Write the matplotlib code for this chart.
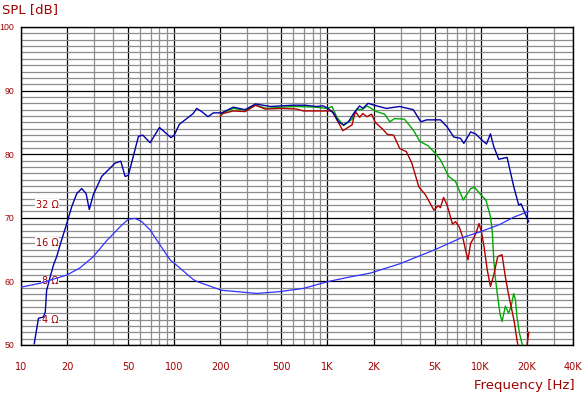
import numpy as np
import matplotlib
matplotlib.use('Agg')
import matplotlib.pyplot as plt
from matplotlib import font_manager
from matplotlib.ticker import FixedLocator, NullLocator

# SPL curves (freq in Hz, level in dB)
f_blue = [12.2, 13.0, 14.0, 14.4, 14.7, 15.5, 16.3, 17.1, 18.4, 19.9, 21.4, 23.1, 24.9, 26.6,
          27.9, 29.6, 33.6, 41.1, 44.8, 47.8, 50.2, 58.4, 62.3, 69.6, 80.1, 95.3, 100, 108,
          133, 140, 151, 166, 180, 204, 243, 290, 339, 424, 500, 597, 714, 850, 936, 1010,
          1100, 1181, 1270, 1370, 1480, 1620, 1700, 1840, 2090, 2420, 2960, 3630, 4060, 4440,
          5460, 6030, 6670, 7380, 7760, 8590, 9250, 10200, 10900, 11570, 12160, 13110, 14860,
          16420, 17690, 18330, 20520]
spl_blue = [50.2, 54.2, 54.4, 55.2, 58.6, 60.7, 62.6, 63.9, 66.5, 69.1, 71.7, 73.8, 74.6, 73.8,
            71.3, 73.6, 76.5, 78.6, 78.9, 76.5, 76.7, 82.8, 83.0, 81.8, 84.2, 82.6, 83.0, 84.7,
            86.4, 87.2, 86.7, 85.9, 86.5, 86.5, 87.4, 87.0, 87.9, 87.5, 87.6, 87.7, 87.7, 87.5,
            87.6, 87.2, 86.4, 85.1, 84.6, 85.1, 86.4, 87.6, 87.2, 88.0, 87.6, 87.2, 87.5, 87.0,
            85.1, 85.4, 85.4, 84.3, 82.7, 82.5, 81.7, 83.5, 83.2, 82.2, 81.6, 83.2, 81.2, 79.2,
            79.5, 74.9, 72.0, 72.2, 69.4]

f_green = [200, 208, 243, 290, 339, 400, 500, 627, 830, 991, 1069, 1152, 1275, 1445, 1555,
           1680, 1810, 2090, 2360, 2550, 2740, 3180, 3630, 4010, 4550, 5070, 5460, 6180, 6850,
           7690, 8590, 9110, 10030, 10800, 11570, 11900, 12160, 12500, 12900, 13400, 13770,
           14480, 15200, 15750, 16420, 16850, 17220, 17920, 18560, 19500, 20200]
spl_green = [86.2, 86.5, 87.2, 86.9, 87.7, 87.2, 87.4, 87.5, 87.4, 87.2, 87.5, 85.8, 84.5, 85.5,
             87.1, 87.0, 87.6, 86.7, 86.3, 85.1, 85.6, 85.5, 83.8, 82.0, 81.3, 80.1, 79.1, 76.5,
             75.7, 72.8, 74.6, 74.8, 73.6, 72.8, 70.2, 67.8, 63.4, 60.2, 57.6, 54.7, 53.7, 56.1,
             55.0, 56.0, 58.1, 57.1, 54.5, 51.8, 50.3, 49.0, 49.5]

f_red = [200, 208, 243, 290, 339, 392, 500, 627, 697, 936, 1069, 1152, 1260, 1340, 1445, 1520,
         1620, 1700, 1810, 1940, 2050, 2300, 2460, 2700, 2960, 3270, 3550, 3940, 4360, 4950,
         5270, 5460, 5720, 6030, 6540, 6850, 7230, 7620, 7960, 8260, 8590, 9000, 9380, 9740,
         10100, 10500, 11030, 11570, 12160, 12900, 13770, 14480, 15200, 15960, 16540, 17220,
         18000, 19500, 20600]
spl_red = [86.0, 86.4, 86.8, 86.7, 87.7, 87.1, 87.2, 87.1, 86.8, 86.8, 86.8, 85.4, 83.7, 84.1,
           84.6, 86.7, 85.8, 86.4, 85.9, 86.3, 85.0, 83.9, 83.1, 83.0, 80.9, 80.4, 78.6, 74.9,
           73.6, 71.2, 71.9, 71.6, 73.2, 72.0, 69.0, 69.4, 68.6, 67.0, 64.9, 63.4, 66.0, 66.8,
           67.8, 69.1, 67.8, 65.5, 61.8, 59.2, 61.0, 63.9, 64.2, 60.7, 57.9, 55.5, 53.7, 50.8,
           48.5, 48.0, 52.0]

# impedance (ohm)
f_imp = [10, 13.3, 15.5, 19.9, 24.2, 29.6, 36.2, 44.3, 50.2, 55.6, 61.4, 69.6, 85, 94, 101,
         133, 140, 204, 256, 345, 490, 697, 1018, 1400, 1900, 2960, 4950, 7380, 9900, 13400,
         16420, 20520]
z_imp = [7.21, 7.73, 8.19, 8.98, 10.2, 12.5, 16.7, 21.5, 24.7, 25.0, 23.6, 20.3, 14.1, 11.8,
         11.0, 8.28, 8.0, 6.81, 6.65, 6.43, 6.65, 7.05, 8.0, 8.67, 9.29, 11.0, 14.1, 17.5, 19.6,
         22.5, 25.6, 28.4]

x_major = [10, 20, 50, 100, 200, 500, 1000, 2000, 5000, 10000, 20000, 40000]
x_labels = ['10', '20', '50', '100', '200', '500', '1K', '2K', '5K', '10K', '20K', '40K']
x_minor = [30, 40, 60, 70, 80, 90, 300, 400, 600, 700, 800, 900, 3000, 4000, 6000, 7000,
           8000, 9000, 30000]
y_major = [50, 60, 70, 80, 90, 100]
z_marks = [32, 16, 8, 4]

txt = '#A00000'

# narrow font for the left labels if there is one
names = {f.name for f in font_manager.fontManager.ttflist}
if 'Liberation Sans Narrow' in names:
    yfam, ysize, ypad = 'Liberation Sans Narrow', 7, 6
else:
    yfam, ysize, ypad = 'Liberation Sans', 6.3, 5

fig = plt.figure(figsize=(5.85, 3.95), dpi=100)
ax = fig.add_axes([21/585, 50/395, 552/585, 318/395])
ax.set_xscale('log')
ax.set_xlim(10, 40000)
ax.set_ylim(50, 100)

ax.xaxis.set_major_locator(FixedLocator(x_major))
ax.xaxis.set_minor_locator(FixedLocator(x_minor))
ax.set_xticklabels(x_labels)
ax.xaxis.set_minor_formatter(plt.NullFormatter())
ax.yaxis.set_major_locator(FixedLocator(y_major))
ax.yaxis.set_minor_locator(FixedLocator([v for v in range(50, 101) if v % 10]))
ax.tick_params(which='both', length=0, colors=txt)
ax.tick_params(axis='x', pad=12, labelsize=7)
ax.tick_params(axis='y', pad=ypad, labelsize=ysize)
for lab in ax.get_yticklabels():
    lab.set_family(yfam)

ax.grid(which='major', color='black', lw=0.9, zorder=1)
ax.grid(which='minor', color='#8c8c8c', lw=0.9, zorder=0)
ax.set_axisbelow(True)
for s in ax.spines.values():
    s.set_color('black')
    s.set_linewidth(1.0)

ax2 = ax.twinx()
ax2.set_yscale('log')
ax2.set_ylim(8 * 10 ** (-0.5), 8 * 10 ** 2)
ax2.yaxis.set_major_locator(NullLocator())
ax2.yaxis.set_minor_locator(NullLocator())
for s in ax2.spines.values():
    s.set_visible(False)

for z in z_marks:
    ax.text(17.6, z, '%d Ω' % z, transform=ax2.transData, ha='right', va='center',
            fontsize=7, color=txt, zorder=2,
            bbox=dict(facecolor='white', edgecolor='none', pad=0.5))

ax.plot(f_blue, spl_blue, color='#0000A8', lw=1.0, zorder=5)
ax.plot(f_green, spl_green, color='#00A800', lw=1.0, zorder=4)
ax.plot(f_red, spl_red, color='#B00000', lw=1.0, zorder=4)
ax2.plot(f_imp, z_imp, color='#3030FF', lw=0.9)

fig.text(2/585, 1 - 10/395, 'SPL [dB]', color=txt, fontsize=9.5, va='center', ha='left')
fig.text(575/585, 1 - 385/395, 'Frequency [Hz]', color=txt, fontsize=9.5, va='center', ha='right')

fig.savefig('out.png', dpi=100, facecolor='white')
